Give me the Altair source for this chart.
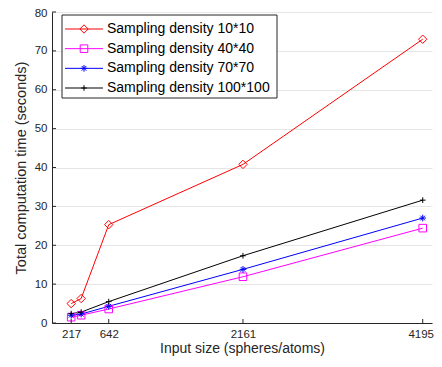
import altair as alt
import pandas as pd

# ---- data ----
sizes = [217, 330, 642, 2161, 4195]
series = ["Sampling density 10*10", "Sampling density 40*40",
          "Sampling density 70*70", "Sampling density 100*100"]
t_10 = [5.0, 6.3, 25.3, 40.8, 73.0]
t_40 = [1.5, 2.0, 3.6, 11.9, 24.4]
t_70 = [2.0, 2.3, 4.3, 13.8, 27.0]
t_100 = [2.4, 2.8, 5.5, 17.3, 31.6]
x_ticks = [217, 642, 2161, 4195]
y_ticks = [0, 10, 20, 30, 40, 50, 60, 70, 80]

colors = ["#ff0000", "#ff00ff", "#0000ff", "#000000"]
asterisk = "M-1,0L1,0M0,-1L0,1M-0.7,-0.7L0.7,0.7M-0.7,0.7L0.7,-0.7"
plus = "M-1,0L1,0M0,-1L0,1"
shapes = ["diamond", "square", asterisk, plus]
msizes = [70, 32, 50, 60]

rows = []
for name, vals in zip(series, [t_10, t_40, t_70, t_100]):
    for s, v in zip(sizes, vals):
        rows.append({"series": name, "size": s, "time": v})
df = pd.DataFrame(rows)

W, H = 380, 311
FONT = "Liberation Sans"
AX = "#262626"

color = alt.Color("series:N", scale=alt.Scale(domain=series, range=colors), legend=None)
shape = alt.Shape("series:N", scale=alt.Scale(domain=series, range=shapes), legend=None)
msize = alt.Size("series:N", scale=alt.Scale(domain=series, range=msizes), legend=None)

xscale = alt.Scale(domain=[0, 4300], nice=False)
yscale = alt.Scale(domain=[0, 80], nice=False)
xaxis = alt.Axis(values=x_ticks, format="d", title="Input size (spheres/atoms)", grid=False,
                 tickSize=0, labelPadding=5, titlePadding=2, titleFontSize=14,
                 labelOffset={"condition": {"test": "datum.value === 4195", "value": -2},
                              "value": 0})
yaxis = alt.Axis(values=y_ticks, format="d", title="Total computation time (seconds)",
                 grid=True, tickSize=0, labelPadding=5, titlePadding=6,
                 labelOffset={"condition": {"test": "datum.value === 80", "value": 1.5},
                              "value": 0})


def X(f):
    return alt.X(f, scale=xscale, axis=xaxis)


def Y(f):
    return alt.Y(f, scale=yscale, axis=yaxis)


base = alt.Chart(df)
lines = base.mark_line(strokeWidth=1).encode(x=X("size:Q"), y=Y("time:Q"), color=color,
                                             detail="series:N", order="size:Q")
points = base.mark_point(filled=False, strokeWidth=1, opacity=1).encode(
    x=X("size:Q"), y=Y("time:Q"), color=color, shape=shape, size=msize)

xt = alt.Chart(pd.DataFrame({"size": x_ticks})).mark_rule(color=AX, strokeWidth=1).encode(
    x=X("size:Q"), y=alt.value(H), y2=alt.value(H - 4))
yt = alt.Chart(pd.DataFrame({"time": y_ticks})).mark_rule(color=AX, strokeWidth=1).encode(
    y=Y("time:Q"), x=alt.value(0), x2=alt.value(4))

main = alt.layer(lines, points, xt, yt)

# ---- legend ----
leg_df = pd.DataFrame({"series": series})
ly = alt.Y("series:N", sort=series,
           scale=alt.Scale(type="point", domain=series, range=[17, 76], padding=0), axis=None)
box = alt.Chart(pd.DataFrame({"a": [0]})).mark_rect(fill="white", stroke=AX, strokeWidth=1).encode(
    x=alt.value(10), x2=alt.value(225), y=alt.value(3), y2=alt.value(86))
lrule = alt.Chart(leg_df).mark_rule(strokeWidth=1).encode(
    y=ly, x=alt.value(13), x2=alt.value(51), color=color)
lpt = alt.Chart(leg_df).mark_point(filled=False, strokeWidth=1, opacity=1).encode(
    y=ly, x=alt.value(32), color=color, shape=shape, size=msize)
ltxt = alt.Chart(leg_df).mark_text(align="left", baseline="middle", font=FONT, fontSize=14,
                                   color="#000000").encode(
    y=ly, x=alt.value(55), text="series:N")
legend = alt.layer(box, lrule, lpt, ltxt)

chart = alt.layer(main, legend).resolve_scale(y="independent").properties(
    width=W, height=H,
    background="white",
    autosize=alt.AutoSizeParams(type="none"),
    padding={"left": 44, "top": 4, "right": 2, "bottom": 36},
).configure_view(stroke=None).configure_axis(
    labelFont=FONT, titleFont=FONT, labelFontSize=11.5, titleFontSize=14.5,
    labelColor=AX, titleColor=AX, domainColor=AX, titleFontWeight="normal",
    gridColor="#e6e6e6", gridWidth=1,
)

chart.save("out.html", embed_options={"renderer": "svg", "actions": False})
